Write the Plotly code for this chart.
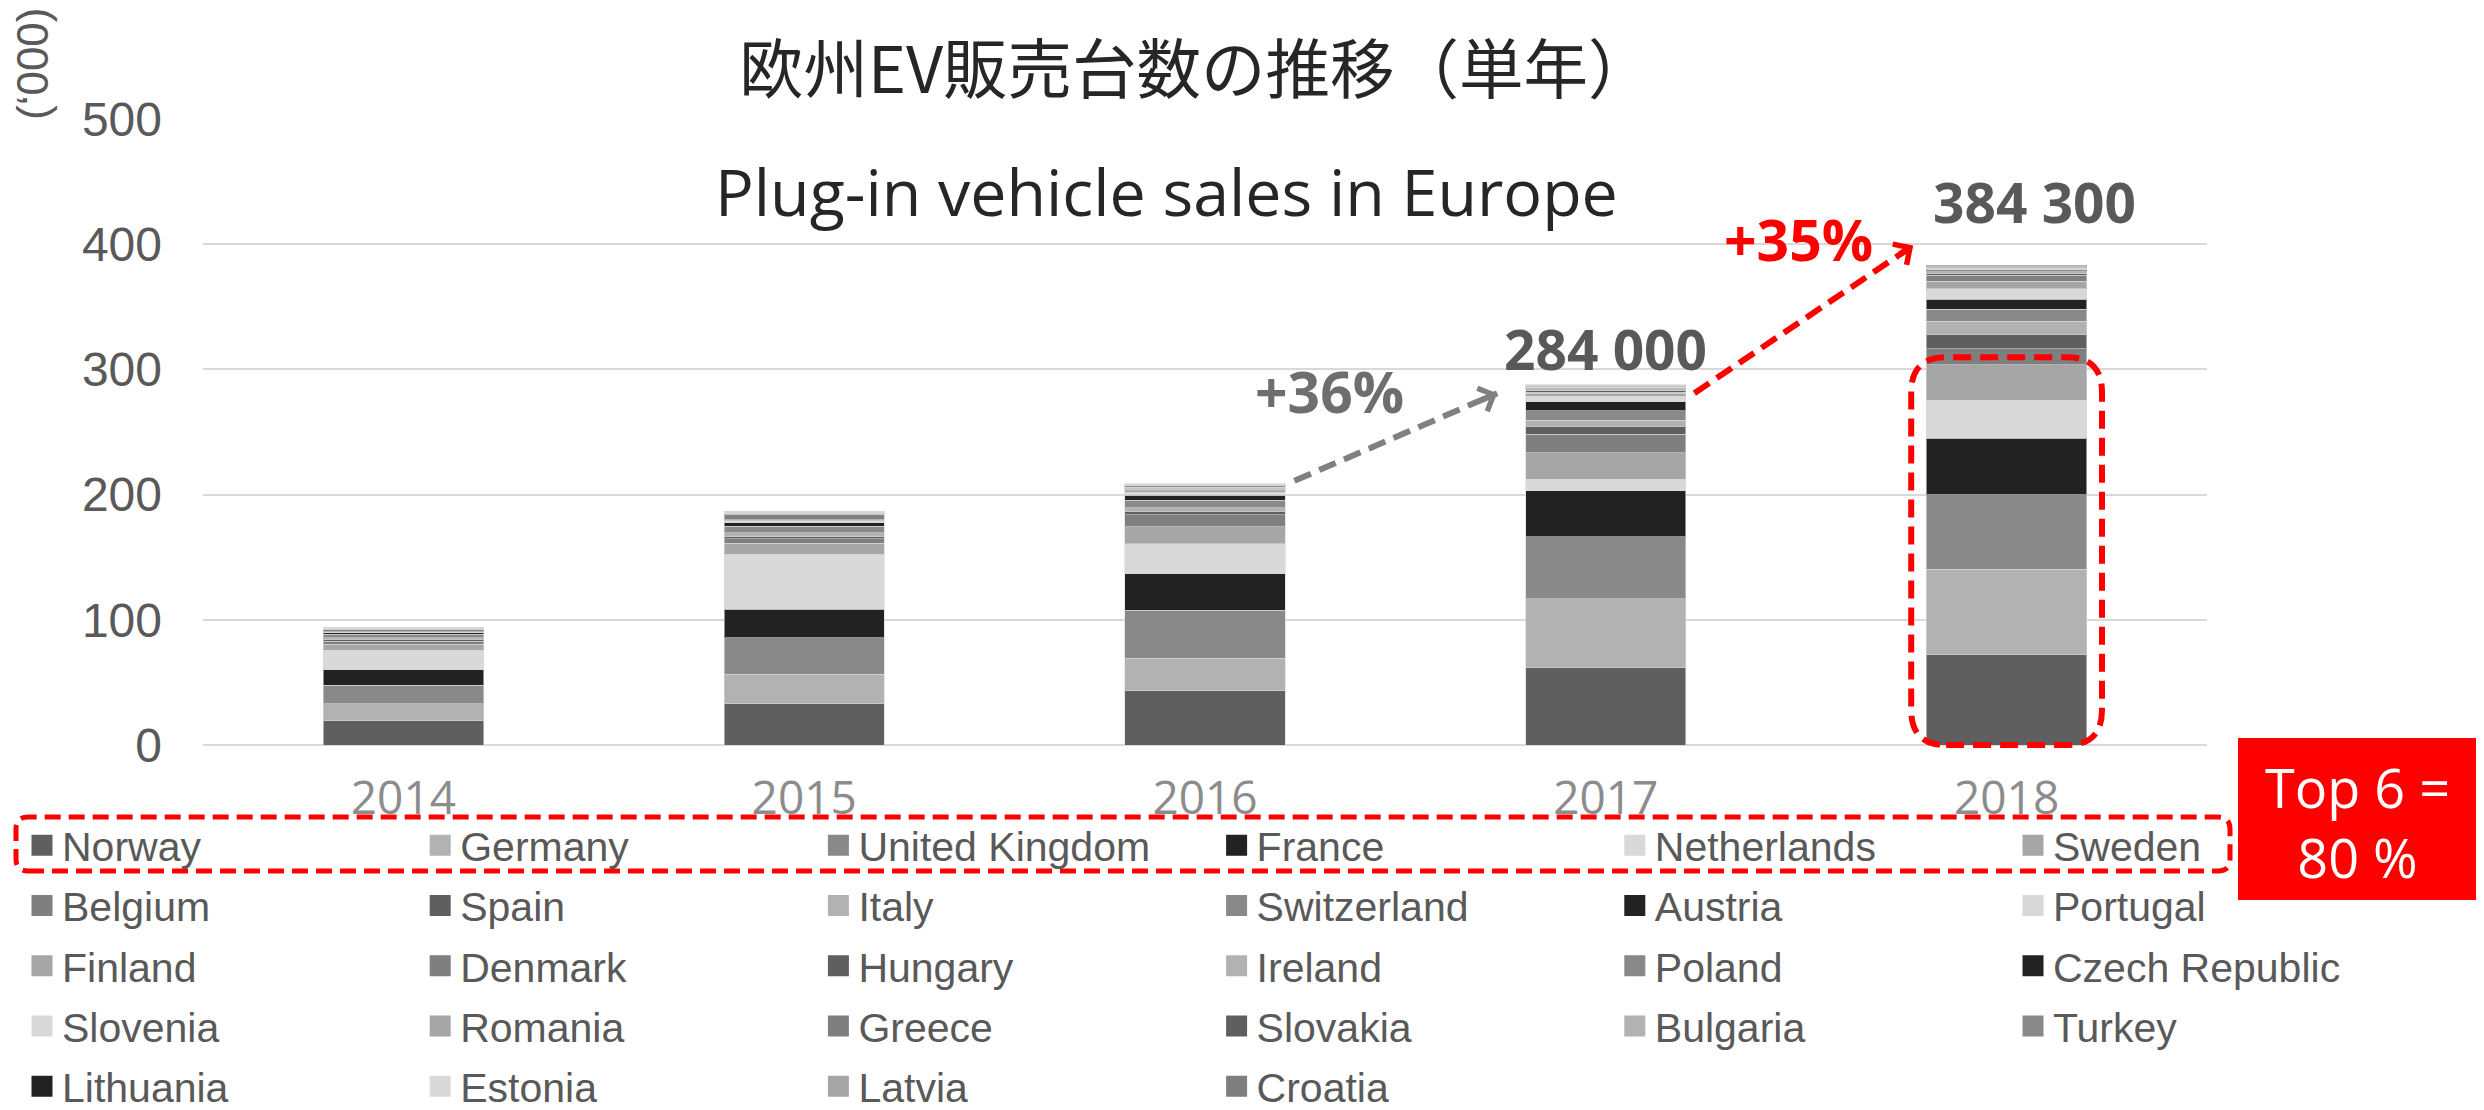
import plotly.graph_objects as go

# ---- data (thousand vehicles) ----
years = [2014, 2015, 2016, 2017, 2018]
countries = [
    "Norway", "Germany", "United Kingdom", "France", "Netherlands", "Sweden",
    "Belgium", "Spain", "Italy", "Switzerland", "Austria", "Portugal",
    "Finland", "Denmark", "Hungary", "Ireland", "Poland", "Czech Republic",
    "Slovenia", "Romania", "Greece", "Slovakia", "Bulgaria", "Turkey",
    "Lithuania", "Estonia", "Latvia", "Croatia",
]
sales_2014 = [19.3, 13.8, 14.6, 12.5, 15.6, 4.8, 2.3, 1.4, 1.4, 2.6, 1.3, 0.3,
              0.5, 1.6, 0.2, 0.3, 0.2, 0.2, 0.1, 0.05, 0.05, 0.1, 0.05, 0.1,
              0.05, 0.3, 0.05, 0.05]
sales_2015 = [32.8, 23.7, 29.0, 22.9, 43.9, 8.8, 3.7, 1.6, 3.2, 5.3, 2.7, 1.6,
              0.8, 4.3, 0.3, 0.5, 0.3, 0.3, 0.1, 0.05, 0.1, 0.1, 0.05, 0.1,
              0.05, 0.1, 0.05, 0.05]
sales_2016 = [43.4, 25.8, 38.6, 29.0, 23.9, 13.8, 9.6, 2.7, 2.8, 5.9, 4.0, 2.2,
              1.4, 1.3, 0.6, 0.8, 0.6, 0.5, 0.3, 0.2, 0.2, 0.2, 0.1, 0.2,
              0.1, 0.1, 0.1, 0.1]
sales_2017 = [61.8, 54.9, 49.8, 36.5, 9.3, 21.0, 14.9, 6.4, 4.8, 7.7, 6.9, 4.5,
              2.6, 0.8, 1.2, 0.8, 0.6, 0.5, 0.6, 0.3, 0.3, 0.3, 0.3, 0.3,
              0.2, 0.1, 0.1, 0.2]
sales_2018 = [71.9, 68.5, 59.4, 45.3, 30.1, 28.5, 12.8, 11.7, 10.1, 9.6, 8.0, 8.5,
              5.9, 4.8, 1.5, 1.2, 1.0, 0.8, 0.8, 0.5, 0.3, 0.4, 0.2, 0.3,
              0.3, 0.2, 0.2, 0.3]
sales_by_year = [sales_2014, sales_2015, sales_2016, sales_2017, sales_2018]

total_labels = ["284 000", "384 300"]   # printed above 2017 and 2018
growth_labels = ["+36%", "+35%"]
top6_text = "Top 6 =<br>80 %"

# ---- geometry (page pixels) ----
W, H = 2484, 1110
BODY = 8                      # default page margin around the plot div
PLOT_LEFT, PLOT_RIGHT = 203, 2207
PLOT_TOP, PLOT_BOTTOM = 119, 745
PLOT_W = PLOT_RIGHT - PLOT_LEFT
PLOT_H = PLOT_BOTTOM - PLOT_TOP
FIG_W, FIG_H = W - BODY, H - BODY
Y_MAX = 500


def px_x(x):
    return (x - PLOT_LEFT) / PLOT_W


def px_y(y):
    return (PLOT_BOTTOM - y) / PLOT_H


def rounded_path(x0, y0, x1, y1, rx, ry):
    return (f"M{x0 + rx},{y0} L{x1 - rx},{y0} Q{x1},{y0} {x1},{y0 + ry} "
            f"L{x1},{y1 - ry} Q{x1},{y1} {x1 - rx},{y1} L{x0 + rx},{y1} "
            f"Q{x0},{y1} {x0},{y1 - ry} L{x0},{y0 + ry} Q{x0},{y0} {x0 + rx},{y0} Z")


palette = ["#5f5f5f", "#b2b2b2", "#898989", "#222222", "#d9d9d9", "#a6a6a6", "#7f7f7f"]
GREY_TXT = "#595959"
RED = "#ff0000"

fig = go.Figure()

for i, name in enumerate(countries):
    leg = "legend" if i % 6 == 0 else f"legend{i % 6 + 1}"
    color = palette[i % 7]
    fig.add_trace(
        go.Bar(
            x=years,
            y=[s[i] for s in sales_by_year],
            name=name,
            width=0.4,
            marker=dict(color=color, line=dict(color="rgba(215,215,215,0.6)", width=1)),
            legendgroup=name,
            showlegend=False,
        )
    )
    # legend-only entry so the swatch can be a larger square
    fig.add_trace(
        go.Scatter(
            x=[None], y=[None], mode="markers", name=name,
            marker=dict(symbol="square", size=16, color=color,
                        line=dict(color=color, width=5)),
            legend=leg, legendgroup=name, hoverinfo="skip",
        )
    )

# six legend columns
legend_font = dict(family="Liberation Sans, Arial", size=41, color=GREY_TXT)
legends = {}
for j in range(6):
    key = "legend" if j == 0 else f"legend{j + 1}"
    legends[key] = dict(
        x=px_x(22 + 398.2 * j), y=px_y(812), xanchor="left", yanchor="top",
        orientation="v", bgcolor="rgba(0,0,0,0)", borderwidth=0,
        font=legend_font, traceorder="grouped", tracegroupgap=4,
    )

shapes = []
# dashed growth arrows (shafts)
grey_arrow = (2016.223, 211, 2016.729, 281)
red_arrow = (2017.221, 281, 2017.767, 399)
for (x0, y0, x1, y1), col in [(grey_arrow, "#808080"), (red_arrow, RED)]:
    shapes.append(dict(type="line", xref="x", yref="y", x0=x0, y0=y0, x1=x1, y1=y1,
                       line=dict(color=col, width=6, dash="18px,9px")))

# rounded dashed box around the top 6 of 2018
top6_2018 = sum(sales_2018[:6])
shapes.append(dict(
    type="path", xref="x", yref="paper",
    path=rounded_path(2018 - 0.238, 0.0, 2018 + 0.238, (top6_2018 + 6) / Y_MAX,
                      0.087, 35 / PLOT_H),
    line=dict(color=RED, width=6, dash="18px,9px"),
))
# dashed box around first legend row
shapes.append(dict(
    type="path", xref="paper", yref="paper",
    path=rounded_path(px_x(16), px_y(871), px_x(2230), px_y(817),
                      12 / PLOT_W, 12 / PLOT_H),
    line=dict(color=RED, width=5, dash="16px,8px"),
))
# red label box
shapes.append(dict(type="rect", xref="paper", yref="paper",
                   x0=px_x(2238), x1=px_x(2500), y0=px_y(900), y1=px_y(738),
                   fillcolor=RED, line=dict(width=0)))

bold = dict(family="Open Sans", size=55, weight="bold")
bold_pct = dict(family="Open Sans", size=57, weight="bold")
centered = dict(xanchor="center", yanchor="middle", showarrow=False)
annotations = [
    dict(text="欧州EV販売台数の推移（単年）", xref="paper", yref="paper",
         x=px_x(1196), y=px_y(65), **centered,
         font=dict(family="Noto Sans CJK JP", size=64.5, color="#262626")),
    dict(text="Plug-in vehicle sales in Europe", xref="paper", yref="paper",
         x=px_x(1166), y=px_y(191), **centered,
         font=dict(family="Open Sans", size=64.5, color="#262626")),
    dict(text="(‘000)", xref="paper", yref="paper", x=px_x(33), y=px_y(64),
         textangle=-90, **centered,
         font=dict(family="Liberation Sans, Arial", size=44, color=GREY_TXT)),
    dict(text=total_labels[0], x=2017, y=317, **centered,
         font=dict(bold, color=GREY_TXT)),
    dict(text=total_labels[1], x=2018.07, y=434, **centered,
         font=dict(bold, color=GREY_TXT)),
    dict(text=growth_labels[0], x=2016.31, y=283, **centered,
         font=dict(bold_pct, color="#6e6e6e")),
    dict(text=growth_labels[1], x=2017.48, y=404, **centered,
         font=dict(bold_pct, color=RED)),
    dict(text=top6_text, xref="paper", yref="paper", x=px_x(2357), y=px_y(822),
         **centered, font=dict(family="Open Sans", size=54, color="white")),
]
# arrow heads
for (x0, y0, x1, y1), col, (ax, ay) in [(grey_arrow, "#808080", (-16, 7)),
                                        (red_arrow, RED, (-15, 10))]:
    annotations.append(dict(text="", x=x1, y=y1, ax=ax, ay=ay, showarrow=True,
                            arrowhead=4, arrowsize=0.8, arrowwidth=6,
                            arrowcolor=col))

fig.update_layout(
    width=FIG_W, height=FIG_H,
    margin=dict(l=PLOT_LEFT - BODY, r=FIG_W + BODY - PLOT_RIGHT, t=PLOT_TOP - BODY,
                b=FIG_H + BODY - PLOT_BOTTOM, autoexpand=False),
    barmode="stack",
    plot_bgcolor="white",
    paper_bgcolor="white",
    xaxis=dict(
        range=[2013.5, 2018.5], tickvals=years, ticktext=[str(y) for y in years],
        showgrid=False, zeroline=False, showline=False, ticks="",
        tickfont=dict(family="Open Sans", size=46, color="#8c8c8c"),
        ticklabelstandoff=22,
    ),
    yaxis=dict(
        range=[0, Y_MAX], dtick=100, showgrid=True, gridcolor="#d9d9d9", gridwidth=2,
        zeroline=True, zerolinecolor="#d9d9d9", zerolinewidth=2, showline=False,
        ticks="", tickfont=dict(family="Liberation Sans, Arial", size=48, color=GREY_TXT),
        ticklabelstandoff=40,
    ),
    shapes=shapes,
    annotations=annotations,
    **legends,
)

fig.write_html("out.html")
